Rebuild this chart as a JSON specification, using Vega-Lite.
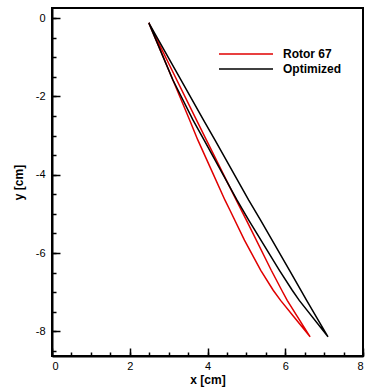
{
  "$schema": "https://vega.github.io/schema/vega-lite/v6.json",
  "width": 311,
  "height": 348,
  "autosize": {"type": "none"},
  "padding": {"left": 52, "top": 8, "right": 2, "bottom": 31},
  "background": "white",
  "config": {
    "view": {"stroke": "#000", "strokeWidth": 2},
    "font": "Liberation Sans",
    "axis": {"grid": false, "domainColor": "#000", "tickColor": "#000", "labelColor": "#000", "titleColor": "#000", "labelFont": "Liberation Sans", "titleFont": "Liberation Sans"}
  },
  "data": {
    "values": [
      {"profile": "Rotor 67", "i": 0, "x": 2.49, "y": -0.12},
      {"profile": "Rotor 67", "i": 1, "x": 3.11, "y": -1.58},
      {"profile": "Rotor 67", "i": 2, "x": 3.54, "y": -2.6},
      {"profile": "Rotor 67", "i": 3, "x": 3.75, "y": -3.11},
      {"profile": "Rotor 67", "i": 4, "x": 4.11, "y": -3.9},
      {"profile": "Rotor 67", "i": 5, "x": 4.45, "y": -4.65},
      {"profile": "Rotor 67", "i": 6, "x": 4.575, "y": -4.9},
      {"profile": "Rotor 67", "i": 7, "x": 4.95, "y": -5.67},
      {"profile": "Rotor 67", "i": 8, "x": 5.37, "y": -6.44},
      {"profile": "Rotor 67", "i": 9, "x": 5.69, "y": -6.95},
      {"profile": "Rotor 67", "i": 10, "x": 5.88, "y": -7.21},
      {"profile": "Rotor 67", "i": 11, "x": 6.2, "y": -7.6},
      {"profile": "Rotor 67", "i": 12, "x": 6.64, "y": -8.14},
      {"profile": "Rotor 67", "i": 13, "x": 6.05, "y": -7.21},
      {"profile": "Rotor 67", "i": 14, "x": 5.91, "y": -6.95},
      {"profile": "Rotor 67", "i": 15, "x": 5.64, "y": -6.44},
      {"profile": "Rotor 67", "i": 16, "x": 5.0, "y": -5.16},
      {"profile": "Rotor 67", "i": 17, "x": 4.74, "y": -4.65},
      {"profile": "Rotor 67", "i": 18, "x": 3.97, "y": -3.11},
      {"profile": "Rotor 67", "i": 19, "x": 3.715, "y": -2.6},
      {"profile": "Rotor 67", "i": 20, "x": 3.21, "y": -1.58},
      {"profile": "Rotor 67", "i": 21, "x": 2.49, "y": -0.12},
      {"profile": "Optimized", "i": 0, "x": 2.49, "y": -0.12},
      {"profile": "Optimized", "i": 1, "x": 3.11, "y": -1.58},
      {"profile": "Optimized", "i": 2, "x": 3.625, "y": -2.6},
      {"profile": "Optimized", "i": 3, "x": 3.91, "y": -3.11},
      {"profile": "Optimized", "i": 4, "x": 4.76, "y": -4.65},
      {"profile": "Optimized", "i": 5, "x": 5.06, "y": -5.16},
      {"profile": "Optimized", "i": 6, "x": 5.85, "y": -6.44},
      {"profile": "Optimized", "i": 7, "x": 6.18, "y": -6.95},
      {"profile": "Optimized", "i": 8, "x": 6.36, "y": -7.21},
      {"profile": "Optimized", "i": 9, "x": 7.1, "y": -8.14},
      {"profile": "Optimized", "i": 10, "x": 6.55, "y": -7.21},
      {"profile": "Optimized", "i": 11, "x": 6.4, "y": -6.95},
      {"profile": "Optimized", "i": 12, "x": 6.11, "y": -6.44},
      {"profile": "Optimized", "i": 13, "x": 5.365, "y": -5.16},
      {"profile": "Optimized", "i": 14, "x": 5.06, "y": -4.65},
      {"profile": "Optimized", "i": 15, "x": 4.19, "y": -3.11},
      {"profile": "Optimized", "i": 16, "x": 3.895, "y": -2.6},
      {"profile": "Optimized", "i": 17, "x": 3.32, "y": -1.58},
      {"profile": "Optimized", "i": 18, "x": 2.49, "y": -0.12}
    ]
  },
  "layer": [
    {
      "mark": {"type": "line", "strokeWidth": 1.5},
      "encoding": {
        "x": {
          "field": "x", "type": "quantitative",
          "scale": {"domain": [0, 8], "nice": false, "zero": false},
          "axis": {"orient": "bottom", "values": [0, 2, 4, 6, 8], "tickSize": -8, "tickWidth": 1.5, "domainWidth": 2, "labelFontSize": 11, "labelPadding": 12, "labelExpr": "'' + datum.value", "title": "x [cm]", "titleFontSize": 12, "titleFontWeight": "bold", "titlePadding": 3}
        },
        "y": {
          "field": "y", "type": "quantitative",
          "scale": {"domain": [-8.63, 0.26], "nice": false, "zero": false},
          "axis": {"orient": "left", "values": [0, -2, -4, -6, -8], "tickSize": -8, "tickWidth": 1.5, "domainWidth": 2, "labelFontSize": 11, "labelPadding": 15, "labelExpr": "'' + datum.value", "title": "y [cm]", "titleFontSize": 12, "titleFontWeight": "bold", "titlePadding": 10}
        },
        "color": {
          "field": "profile", "type": "nominal",
          "scale": {"domain": ["Rotor 67", "Optimized"], "range": ["#e00000", "#000000"]},
          "legend": {"title": null, "orient": "none", "legendX": 188, "legendY": 40, "symbolType": "M-5.4,0H5.4", "symbolSize": 100, "symbolStrokeWidth": 1.5, "labelFontSize": 12, "labelFontWeight": "bold", "labelOffset": 31, "rowPadding": 3, "padding": 0, "labelColor": "#000", "labelFont": "Liberation Sans"}
        },
        "order": {"field": "i", "type": "quantitative"}
      }
    },
    {
      "mark": {"type": "line", "strokeOpacity": 0},
      "encoding": {
        "x": {
          "field": "x", "type": "quantitative",
          "scale": {"domain": [0, 8], "nice": false, "zero": false},
          "axis": {"orient": "bottom", "values": [0, 0.5, 1, 1.5, 2, 2.5, 3, 3.5, 4, 4.5, 5, 5.5, 6, 6.5, 7, 7.5, 8], "tickSize": -4, "tickWidth": 1.5, "labels": false, "domain": false, "title": null}
        },
        "y": {
          "field": "y", "type": "quantitative",
          "scale": {"domain": [-8.63, 0.26], "nice": false, "zero": false},
          "axis": {"orient": "left", "values": [0, -0.5, -1, -1.5, -2, -2.5, -3, -3.5, -4, -4.5, -5, -5.5, -6, -6.5, -7, -7.5, -8, -8.5], "tickSize": -4, "tickWidth": 1.5, "labels": false, "domain": false, "title": null}
        },
        "detail": {"field": "profile", "type": "nominal"},
        "order": {"field": "i", "type": "quantitative"}
      }
    }
  ],
  "resolve": {"axis": {"x": "independent", "y": "independent"}}
}
